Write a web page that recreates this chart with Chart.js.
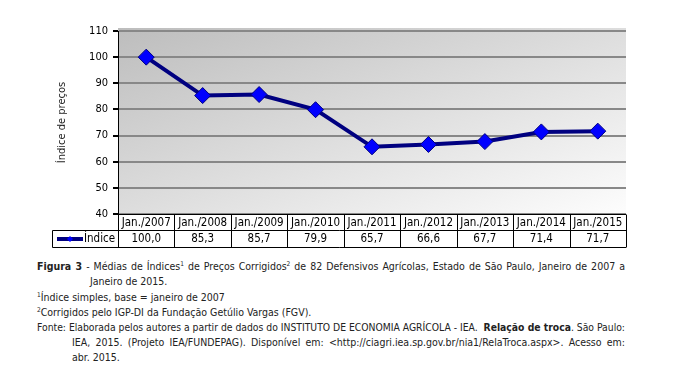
<!DOCTYPE html>
<html>
<head>
<meta charset="utf-8">
<script src="https://cdn.jsdelivr.net/npm/chart.js@4"></script>
<style>
  body { margin: 0; background: #fff; width: 693px; height: 387px; position: relative; overflow: hidden; }
  #wrap { position: absolute; left: 0; top: 0; width: 693px; height: 255px; }
  .cap { position: absolute; font-family: "DejaVu Sans Condensed", "DejaVu Sans", sans-serif; font-size: 10.5px; color: #222; white-space: nowrap; line-height: 14px; }
  .fit { transform-origin: 0 50%; }
  sup { font-size: 6.5px; line-height: 0; vertical-align: 4px; }
</style>
</head>
<body>
<div id="wrap"><canvas id="indexChart"></canvas></div>

<div class="cap fit" data-w="588" style="left:37px; top:259px;"><b>Figura 3</b> - Médias de Índices<sup>1</sup> de Preços Corrigidos<sup>2</sup> de 82 Defensivos Agrícolas, Estado de São Paulo, Janeiro de 2007 a</div>
<div class="cap" style="left:90px; top:274px;">Janeiro de 2015.</div>
<div class="cap" style="left:37px; top:290px;"><sup>1</sup>Índice simples, base = janeiro de 2007</div>
<div class="cap" style="left:37px; top:305px;"><sup>2</sup>Corrigidos pelo IGP-DI da Fundação Getúlio Vargas (FGV).</div>
<div class="cap fit" data-w="588" style="left:37px; top:320px;">Fonte: Elaborada pelos autores a partir de dados do INSTITUTO DE ECONOMIA AGRÍCOLA - IEA. &nbsp;<b>Relação de troca</b>. São Paulo:</div>
<div class="cap fit" data-w="553" style="left:72px; top:335px;">IEA, 2015. (Projeto IEA/FUNDEPAG). Disponível em: &lt;http://ciagri.iea.sp.gov.br/nia1/RelaTroca.aspx&gt;. Acesso em:</div>
<div class="cap" style="left:72px; top:350px;">abr. 2015.</div>

<script>
var categories = ["Jan./2007", "Jan./2008", "Jan./2009", "Jan./2010", "Jan./2011", "Jan./2012", "Jan./2013", "Jan./2014", "Jan./2015"];
var indice = [100.0, 85.3, 85.7, 79.9, 65.7, 66.6, 67.7, 71.4, 71.7];
var seriesName = "Índice";
var yMin = 40;
var yMax = 110;
var yStep = 10;

var fontFamily = "'DejaVu Sans Condensed', 'DejaVu Sans', sans-serif";

// stretch or squeeze the full caption lines to the text block width
var fitLines = document.querySelectorAll(".fit");
for (var f = 0; f < fitLines.length; f++) {
    var el = fitLines[f];
    var target = parseFloat(el.getAttribute("data-w"));
    var w = el.getBoundingClientRect().width;
    var gaps = el.textContent.split(" ").length - 1;
    if (w > target) {
        el.style.transform = "scaleX(" + (target / w) + ")";
    } else if (gaps > 0) {
        el.style.wordSpacing = ((target - w) / gaps) + "px";
    }
}

// gray diagonal gradient behind the plot (corner to corner of the plot box)
var plotBackground = {
    id: "plotBackground",
    beforeDraw: function (chart) {
        var ctx = chart.ctx, a = chart.chartArea;
        ctx.save();
        ctx.translate(a.left, a.top - 3);
        ctx.scale(a.right - a.left, a.bottom - a.top + 3);
        var g = ctx.createLinearGradient(0, 0, 1, 1);
        g.addColorStop(0, "#bdbdbd");
        g.addColorStop(1, "#fdfdfd");
        ctx.fillStyle = g;
        ctx.fillRect(0, 0, 1, 1);
        ctx.restore();
    }
};

// data table under the plot (labels + values + legend key)
var dataTable = {
    id: "dataTable",
    afterDraw: function (chart) {
        var ctx = chart.ctx, a = chart.chartArea, x = chart.scales.x;
        var colW = (a.right - a.left) / categories.length;
        var top = Math.round(a.bottom) + 0.5, mid = top + 16, bot = mid + 17;
        var keyLeft = 52.5;

        ctx.save();
        ctx.strokeStyle = "#000";
        ctx.lineWidth = 1;
        ctx.beginPath();
        ctx.moveTo(a.left, top); ctx.lineTo(a.right, top);
        ctx.moveTo(keyLeft, mid); ctx.lineTo(a.right, mid);
        ctx.moveTo(keyLeft, bot); ctx.lineTo(a.right, bot);
        ctx.moveTo(keyLeft, mid); ctx.lineTo(keyLeft, bot);
        for (var i = 0; i <= categories.length; i++) {
            var px = Math.round(a.left + i * colW) + 0.5;
            ctx.moveTo(px, top); ctx.lineTo(px, bot);
        }
        ctx.stroke();

        ctx.fillStyle = "#000";
        ctx.font = "11.5px " + fontFamily;
        ctx.textAlign = "center";
        ctx.textBaseline = "middle";
        for (var j = 0; j < categories.length; j++) {
            var cx = x.getPixelForValue(j);
            ctx.fillText(categories[j], cx, (top + mid) / 2 + 0.5);
            ctx.fillText(indice[j].toFixed(1).replace(".", ","), cx, (mid + bot) / 2 + 0.5);
        }

        // legend key
        var ky = (mid + bot) / 2;
        ctx.strokeStyle = "#000080";
        ctx.lineWidth = 4;
        ctx.beginPath();
        ctx.moveTo(57, ky); ctx.lineTo(83, ky);
        ctx.stroke();
        ctx.fillStyle = "#0000ff";
        ctx.beginPath();
        ctx.moveTo(70, ky - 3); ctx.lineTo(73, ky); ctx.lineTo(70, ky + 3); ctx.lineTo(67, ky);
        ctx.closePath();
        ctx.fill();
        ctx.fillStyle = "#000";
        ctx.textAlign = "left";
        ctx.fillText(seriesName, 84, ky + 0.5);
        ctx.restore();
    }
};

var ctx = document.getElementById("indexChart").getContext("2d");
var indexChart = new Chart(ctx, {
    type: "line",
    data: {
        labels: categories,
        datasets: [
            {
                label: seriesName,
                data: indice,
                borderColor: "#000080",
                borderWidth: 4,
                pointStyle: "rectRot",
                pointRadius: 8,
                pointHoverRadius: 8,
                pointBackgroundColor: "#0000ff",
                pointBorderColor: "#000080",
                pointBorderWidth: 1,
                tension: 0,
            },
        ],
    },
    options: {
        responsive: true,
        maintainAspectRatio: false,
        animation: false,
        layout: {
            padding: { left: 52, top: 31, right: 67, bottom: 41 },
        },
        plugins: {
            legend: { display: false },
            tooltip: { enabled: false },
        },
        scales: {
            x: {
                display: false,
                offset: true,
            },
            y: {
                min: yMin,
                max: yMax,
                afterFit: function (scale) {
                    scale.width = 66;
                },
                ticks: {
                    stepSize: yStep,
                    padding: 5,
                    color: "#000",
                    font: { family: fontFamily, size: 11 },
                },
                grid: {
                    color: "#888888",
                    lineWidth: 2,
                    tickLength: 5,
                    tickColor: "#000",
                },
                border: { color: "#000", width: 1 },
                title: {
                    display: true,
                    text: "Índice de preços",
                    color: "#222",
                    padding: { top: 4, bottom: 4 },
                    font: { family: fontFamily, size: 11 },
                },
            },
        },
    },
    plugins: [plotBackground, dataTable],
});
</script>
</body>
</html>
